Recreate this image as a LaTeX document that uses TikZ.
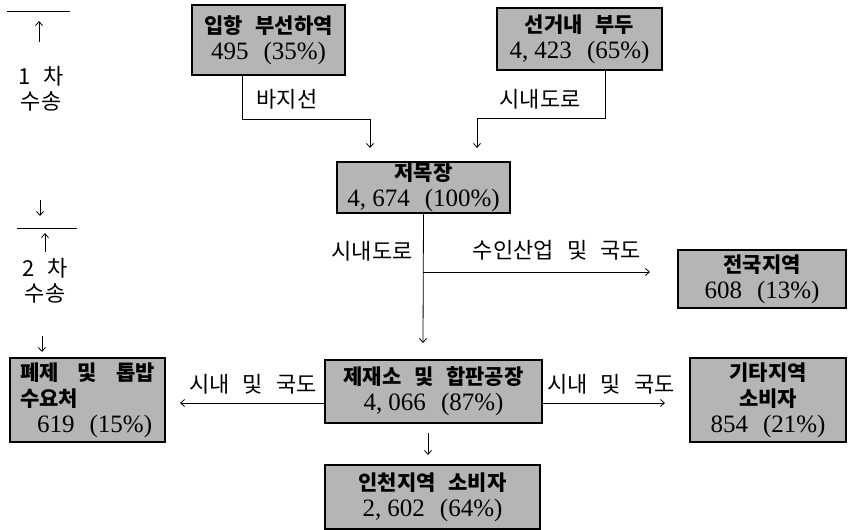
\documentclass[tikz,border=0pt]{standalone}
\usepackage{fontspec}
\setmainfont{Liberation Serif}
\newfontfamily\kr{Noto Sans CJK KR}
\usetikzlibrary{arrows.meta}
\newcommand\nm[1]{{\rmfamily\mdseries\fontsize{25}{26}\selectfont #1}}
\newcommand\gap{\hspace{0.6em}}
\begin{document}
\begin{tikzpicture}[x=1pt,y=-1pt,
  box/.style={draw, line width=1.1pt, fill=black!29, align=center, inner sep=1pt,
              font=\kr\bfseries\fontsize{21}{26}\selectfont},
  lbl/.style={font=\kr\fontsize{22}{26}\selectfont, inner sep=0pt},
  con/.style={line width=0.8pt},
  arr/.style={line width=0.8pt, -{Straight Barb[length=4pt,width=7pt]}}]
\useasboundingbox (0,0) rectangle (852,530);

% boxes
\node[box, minimum width=153, minimum height=70] (ip) at (268.5,40) {입항\gap 부선하역\\\nm{495\gap(35\%)}};
\node[box, minimum width=165, minimum height=62] (sg) at (579.5,39) {선거내\gap 부두\\\nm{4, 423\gap(65\%)}};
\node[box, minimum width=173, minimum height=51] (jm) at (423.5,187.5) {저목장\\\nm{4, 674\gap(100\%)}};
\node[box, minimum width=168, minimum height=58] (jg) at (762,279) {전국지역\\\nm{608\gap(13\%)}};
\node[box, minimum width=217, minimum height=63] (jj) at (433.5,391.5) {제재소\gap 및\gap 합판공장\\\nm{4, 066\gap(87\%)}};
\node[box, minimum width=155, minimum height=84, align=left] (pj) at (87.5,400) {폐제\hspace{0.9em}및\hspace{0.9em}톱밥\\수요처\\\hspace{0.8em}\nm{619\gap(15\%)}};
\node[box, minimum width=156, minimum height=84] (gt) at (768,400) {기타지역\\소비자\\\nm{854\gap(21\%)}};
\node[box, minimum width=215, minimum height=64] (ic) at (432.5,497) {인천지역\gap 소비자\\\nm{2, 602\gap(64\%)}};

% coordinates
\coordinate (xa) at (242,0);
\coordinate (xb) at (605,0);
\coordinate (ta) at (370,148);
\coordinate (tb) at (477,148);
\coordinate (tc) at (423,343);
\coordinate (br) at (423,272);
\coordinate (td) at (650,272);
\coordinate (yl) at (0,403);
\coordinate (tl) at (180,403);
\coordinate (tr) at (665,403);
\coordinate (sd) at (428,433);
\coordinate (te) at (428,455);

% connectors
\draw[arr] (ip.south -| xa) -- (242,119) -| (ta);
\draw[arr] (sg.south -| xb) -- (605,118) -| (tb);
\draw[arr] (jm.south) -- (tc);
\draw[arr] (br) -- (td);
\draw[arr] (jj.west |- yl) -- (tl);
\draw[arr] (jj.east |- yl) -- (tr);
\draw[arr] (sd) -- (te);

% labels
\node[lbl] (l1) at (287,99) {바지선};
\node[lbl] (l2) at (540,99) {시내도로};
\node[lbl] (l3) at (372,251) {시내도로};
\node[lbl] (l4) at (557,250) {수인산업\gap 및\gap 국도};
\node[lbl] (l5) at (253,384) {시내\gap 및\gap 국도};
\node[lbl] (l6) at (611,384) {시내\gap 및\gap 국도};

% left column
\coordinate (p1) at (7,11);
\coordinate (p2) at (70,11);
\draw[con] (p1) -- (p2);
\coordinate (u1) at (39,42);
\coordinate (u2) at (39,21);
\draw[arr] (u1) -- (u2);
\node[lbl] (c1) at (41,76) {1\gap 차};
\node[lbl] (c2) at (41,101) {수송};
\coordinate (d1) at (40,200);
\coordinate (d2) at (40,216);
\draw[arr] (d1) -- (d2);
\coordinate (p3) at (17,228);
\coordinate (p4) at (77,228);
\draw[con] (p3) -- (p4);
\coordinate (u3) at (45,252);
\coordinate (u4) at (45,233);
\draw[arr] (u3) -- (u4);
\node[lbl] (c3) at (45,268) {2\gap 차};
\node[lbl] (c4) at (45,293) {수송};
\coordinate (d3) at (42,336);
\coordinate (d4) at (42,352);
\draw[arr] (d3) -- (d4);
\end{tikzpicture}
\end{document}
